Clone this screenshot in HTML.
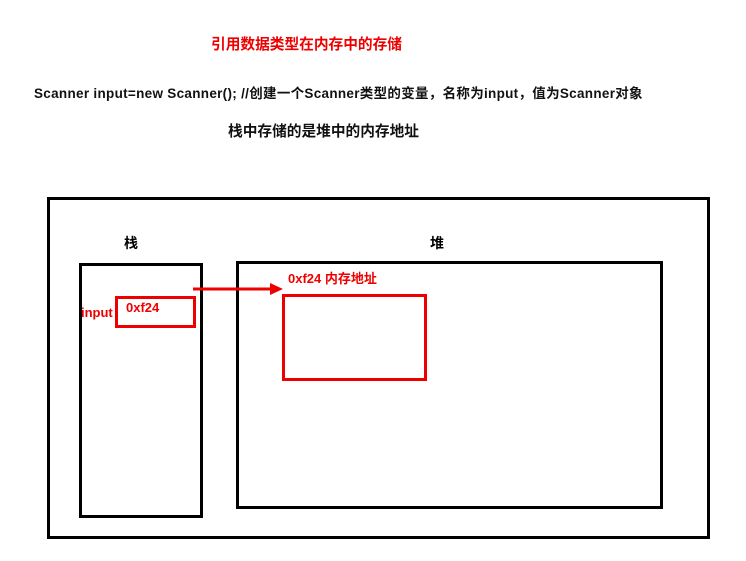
<!DOCTYPE html>
<html><head><meta charset="utf-8"><style>
body{margin:0;width:746px;height:561px;background:#fff;position:relative;overflow:hidden;font-family:"Liberation Sans","Noto Sans CJK SC",sans-serif;font-weight:bold}
.t{position:absolute;white-space:nowrap}
.b{position:absolute;box-sizing:border-box}
</style></head><body>
<div class="t" style="left:211px;top:33px;font-size:14.7px;color:#e00">引用数据类型在内存中的存储</div>
<div class="t" style="left:34px;top:82px;font-size:13.5px;color:#111;letter-spacing:0.3px">Scanner input=new Scanner(); //创建一个Scanner类型的变量，名称为input，值为Scanner对象</div>
<div class="t" style="left:228px;top:120px;font-size:14.7px;color:#111">栈中存储的是堆中的内存地址</div>
<div class="b" style="left:47px;top:197px;width:663px;height:342px;border:3px solid #000"></div>
<div class="t" style="left:124px;top:233px;font-size:14px">栈</div>
<div class="t" style="left:430px;top:233px;font-size:14px">堆</div>
<div class="b" style="left:79px;top:263px;width:124px;height:255px;border:3px solid #000"></div>
<div class="b" style="left:236px;top:261px;width:427px;height:248px;border:3px solid #000"></div>
<div class="b" style="left:115px;top:296px;width:81px;height:32px;border:3px solid #e00"></div>
<div class="t" style="left:81px;top:305px;font-size:13px;color:#e00">input</div>
<div class="t" style="left:126px;top:300px;font-size:13px;color:#e00">0xf24</div>
<div class="b" style="left:282px;top:294px;width:145px;height:87px;border:3px solid #e00"></div>
<div class="t" style="left:288px;top:268px;font-size:13px;color:#e00">0xf24 内存地址</div>
<svg style="position:absolute;left:0;top:0" width="746" height="561"><line x1="193" y1="289" x2="272" y2="289" stroke="#e00" stroke-width="3"/><polygon points="270,283 283,289 270,295" fill="#e00"/></svg>
</body></html>
